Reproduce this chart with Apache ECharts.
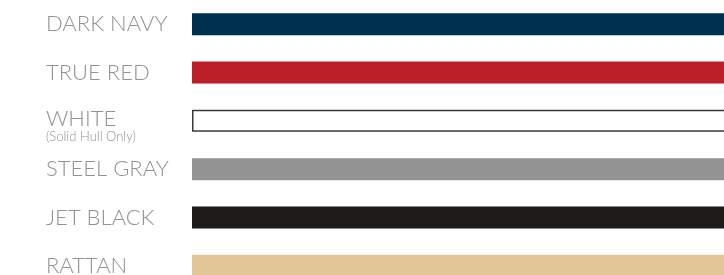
<!DOCTYPE html>
<html>
<head>
<meta charset="utf-8">
<script src="https://cdn.jsdelivr.net/npm/echarts@6/dist/echarts.min.js"></script>
<style>
  html, body { margin: 0; padding: 0; background: #fff; }
  #chart { width: 724px; height: 275px; }
</style>
</head>
<body>
<div id="chart"></div>
<script>
// colour names, top to bottom
const names = ['DARK NAVY', 'TRUE RED', 'WHITE', 'STEEL GRAY', 'JET BLACK', 'RATTAN']
const notes = ['', '', '(Solid Hull Only)', '', '', '']
const swatches = ['#00304f', '#bd1f28', '#ffffff', '#939393', '#1c1b19', '#e2c696']
const values = [1, 1, 1, 1, 1, 1]

const chart = echarts.init(document.getElementById('chart'))
chart.setOption({
  animation: false,
  backgroundColor: '#fff',
  grid: {
    left: 192,
    right: -3,
    top: 0,
    bottom: -15,
    outerBoundsMode: 'none',
    containLabel: false
  },
  xAxis: {
    type: 'value',
    min: 0,
    max: 1,
    show: false
  },
  yAxis: {
    type: 'category',
    inverse: true,
    data: names,
    axisLine: { show: false },
    axisTick: { show: false },
    splitLine: { show: false },
    axisLabel: {
      align: 'left',
      margin: 146,
      color: '#929292',
      fontFamily: 'Lato',
      fontWeight: 300,
      fontSize: 22,
      formatter: function (val, idx) {
        if (notes[idx]) {
          return '{a|' + val + '}\n{b|' + notes[idx] + '}'
        }
        return val
      },
      rich: {
        a: { fontFamily: 'Lato', fontWeight: 300, fontSize: 22, color: '#929292', lineHeight: 32 },
        b: { fontFamily: 'Lato', fontWeight: 300, fontSize: 13, color: '#929292', lineHeight: 4 }
      }
    }
  },
  series: [{
    type: 'bar',
    barWidth: 22,
    data: values.map((v, i) => ({
      value: v,
      itemStyle: {
        color: swatches[i],
        borderColor: swatches[i] === '#ffffff' ? '#3a3a3a' : swatches[i],
        borderWidth: swatches[i] === '#ffffff' ? 1.5 : 0
      }
    }))
  }]
})
</script>
</body>
</html>
